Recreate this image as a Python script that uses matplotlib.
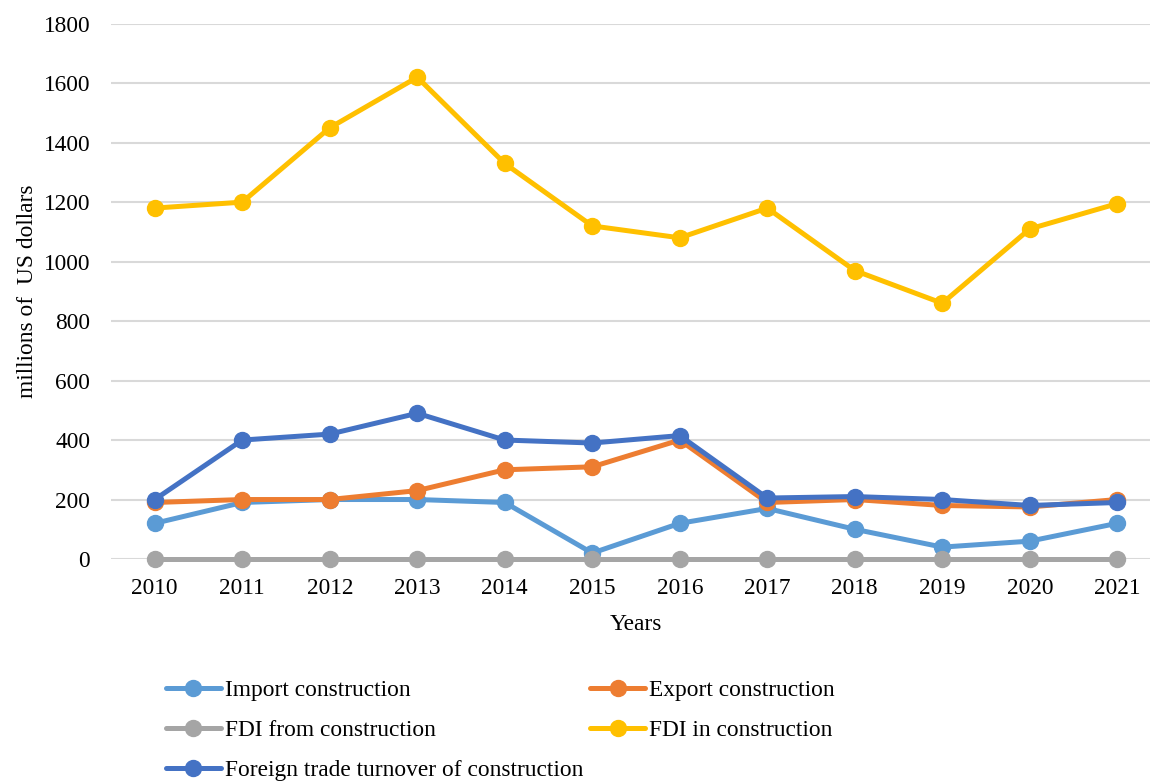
import matplotlib
matplotlib.use("Agg")
import matplotlib.pyplot as plt

years = ["2010", "2011", "2012", "2013", "2014", "2015", "2016", "2017", "2018", "2019", "2020", "2021"]
import_construction = [120, 190, 200, 200, 190, 20, 120, 170, 100, 40, 60, 120]
export_construction = [190, 200, 200, 230, 300, 310, 400, 190, 200, 180, 175, 200]
fdi_from_construction = [0, 0, 0, 0, 0, 0, 0, 0, 0, 0, 0, 0]
fdi_in_construction = [1180, 1200, 1450, 1620, 1330, 1120, 1080, 1180, 970, 860, 1110, 1195]
foreign_trade_turnover = [200, 400, 420, 490, 400, 390, 415, 205, 210, 200, 180, 190]

series = [
    ("Import construction", import_construction, "#5B9BD5"),
    ("Export construction", export_construction, "#ED7D31"),
    ("FDI from construction", fdi_from_construction, "#A5A5A5"),
    ("FDI in construction", fdi_in_construction, "#FFC000"),
    ("Foreign trade turnover of construction", foreign_trade_turnover, "#4472C4"),
]

plt.rcParams['font.family'] = ['Liberation Serif', 'DejaVu Serif']
FS = 16.8

W, H = 1150, 782
fig = plt.figure(figsize=(W / 100, H / 100), dpi=100)
left, right = 111, 1150
top, bottom = 23.7, 559
ax = fig.add_axes([left / W, 1 - bottom / H, (right - left) / W, (bottom - top) / H])

x = list(range(len(years)))
handles = {}
for name, vals, col in series:
    h, = ax.plot(x, vals, color=col, lw=3.6, marker='o', ms=11.5, label=name,
                 solid_capstyle='round', clip_on=False, zorder=3)
    handles[name] = h

step = 87.5
ax.set_xlim(-0.5, (right - left) / step - 0.5)
ax.set_ylim(0, 1800)
ax.set_yticks(range(0, 1801, 200))
ax.set_xticks(x)
ax.set_xticklabels(years)
ax.tick_params(axis='both', length=0, labelsize=FS)
ax.tick_params(axis='y', pad=15)
ax.tick_params(axis='x', pad=14)
ax.grid(axis='y', color='#D9D9D9', lw=1.5, zorder=0)
ax.set_axisbelow(True)
for s in ax.spines.values():
    s.set_visible(False)

fig.text(28 / W, 1 - 291 / H, "millions of  US dollars", rotation=90, ha='center', va='center', fontsize=FS)
fig.text(636 / W, 1 - 624 / H, "Years", ha='center', va='center', fontsize=FS)

order = ["Import construction", "FDI from construction", "Foreign trade turnover of construction",
         "Export construction", "FDI in construction"]
leg = fig.legend([handles[n] for n in order], order, ncol=2, loc='upper left',
                 bbox_to_anchor=(166 / W, 1 - 680 / H), frameon=False, fontsize=FS,
                 handlelength=2.35, handletextpad=0.17, columnspacing=0.3,
                 labelspacing=0.8, borderpad=0, borderaxespad=0)

fig.savefig("out.png", dpi=100)
